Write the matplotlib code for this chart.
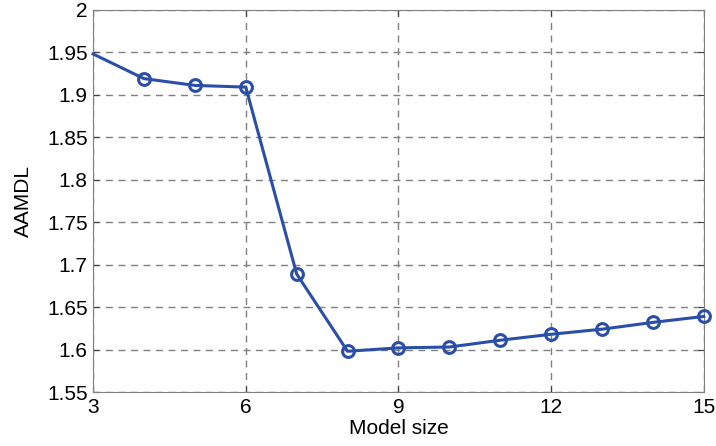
import matplotlib
matplotlib.use("Agg")
import matplotlib.pyplot as plt

model_size = [3, 4, 5, 6, 7, 8, 9, 10, 11, 12, 13, 14, 15]
aamdl = [1.948, 1.919, 1.911, 1.909, 1.689, 1.598, 1.602, 1.603, 1.611, 1.618, 1.624, 1.632, 1.639]
x_ticks = [3, 6, 9, 12, 15]
y_ticks = [1.55, 1.6, 1.65, 1.7, 1.75, 1.8, 1.85, 1.9, 1.95, 2.0]
y_labels = ["1.55", "1.6", "1.65", "1.7", "1.75", "1.8", "1.85", "1.9", "1.95", "2"]

plt.rcParams['font.family'] = ['Liberation Sans', 'DejaVu Sans']
fig = plt.figure(figsize=(7.16, 4.46), dpi=100)
ax = fig.add_axes([0.130, 0.121, 0.853, 0.857])
color = '#2b4ea8'
ax.plot(model_size, aamdl, color=color, lw=2.2, marker='o', markersize=8.5,
        markerfacecolor='none', markeredgewidth=2.2, markevery=list(range(1, len(model_size))),
        clip_on=False, zorder=3)
ax.set_xlim(3, 15)
ax.set_ylim(1.55, 2.0)
ax.set_xticks(x_ticks)
ax.set_yticks(y_ticks)
ax.set_yticklabels(y_labels)
ax.grid(True, color='#808080', linestyle=(0, (5, 4)), linewidth=1)
ax.tick_params(direction='in', labelsize=15, length=4, pad=4, top=True, right=True,
               colors='#404040', labelcolor='black')
for s in ax.spines.values():
    s.set_color('#808080')
ax.set_xlabel('Model size', fontsize=15, labelpad=2)
ax.set_ylabel('AAMDL', fontsize=15, labelpad=10)
fig.savefig('out.png', dpi=100)
